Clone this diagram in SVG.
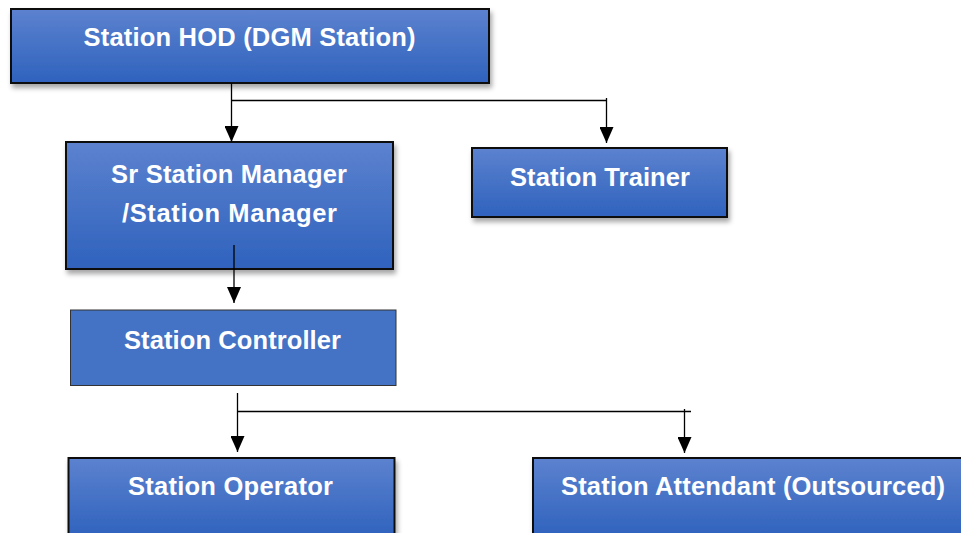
<svg xmlns="http://www.w3.org/2000/svg" width="961" height="533" viewBox="0 0 961 533">
<defs>
<linearGradient id="g" x1="0" y1="0" x2="0" y2="1">
<stop offset="0" stop-color="#5c82cf"/>
<stop offset="1" stop-color="#2f62bd"/>
</linearGradient>
<filter id="sh" x="-10%" y="-10%" width="130%" height="140%">
<feDropShadow dx="2" dy="4" stdDeviation="2.5" flood-color="#000" flood-opacity="0.35"/>
</filter>
<marker id="ah" markerWidth="16" markerHeight="14" refX="16" refY="7" orient="auto" markerUnits="userSpaceOnUse">
<path d="M0,0 L16,7 L0,14 Z" fill="#000"/>
</marker>
<style>
.box{fill:url(#g);stroke:#111;stroke-width:2;filter:url(#sh)}
.flat{fill:#4472c4;stroke:#333;stroke-width:1}
.t{font-family:"Liberation Sans",Arial,sans-serif;font-weight:bold;font-size:25.5px;fill:#fff;text-anchor:middle}
.c{fill:none;stroke:#000;stroke-width:1.3}
</style>
</defs>
<g id="hod">
<rect class="box" x="11" y="9" width="478" height="74"/>
<text class="t" x="249.5" y="46" textLength="332">Station HOD (DGM Station)</text>
</g>
<g id="srmanager">
<rect class="box" x="66" y="142" width="327" height="127"/>
<text class="t" x="229" y="183" textLength="236">Sr Station Manager</text>
<text class="t" x="229.5" y="222" textLength="215">/Station Manager</text>
</g>
<g id="trainer">
<rect class="box" x="472" y="148" width="255" height="69"/>
<text class="t" x="600" y="186" textLength="180">Station Trainer</text>
</g>
<g id="controller">
<rect class="flat" x="70.5" y="310" width="325.5" height="75.5"/>
<text class="t" x="232.5" y="349" textLength="217">Station Controller</text>
</g>
<g id="operator">
<rect class="box" x="68.5" y="458" width="326" height="80"/>
<text class="t" x="230.5" y="495" textLength="205">Station Operator</text>
</g>
<g id="attendant">
<rect class="box" x="533" y="458" width="440" height="80"/>
<text class="t" x="753" y="495" textLength="384">Station Attendant (Outsourced)</text>
</g>
<g id="connectors">
<line class="c" x1="231.5" y1="83" x2="231.5" y2="142" marker-end="url(#ah)"/>
<line class="c" x1="231.5" y1="100.5" x2="607" y2="100.5"/>
<line class="c" x1="606.5" y1="98" x2="606.5" y2="143" marker-end="url(#ah)"/>
<line class="c" x1="234" y1="245" x2="234" y2="303" marker-end="url(#ah)"/>
<line class="c" x1="237.5" y1="393" x2="237.5" y2="452" marker-end="url(#ah)"/>
<line class="c" x1="237.5" y1="411.5" x2="691" y2="411.5"/>
<line class="c" x1="684.5" y1="409" x2="684.5" y2="453" marker-end="url(#ah)"/>
</g>
</svg>
